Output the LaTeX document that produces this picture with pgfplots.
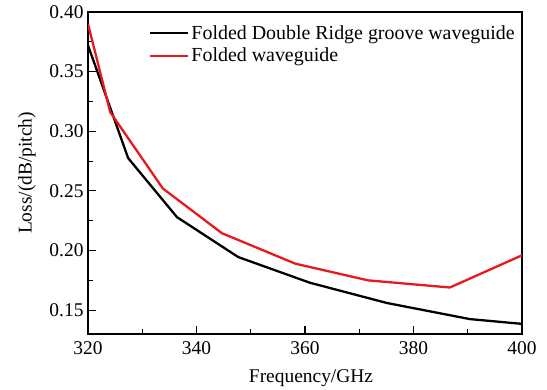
\documentclass[border=0pt]{standalone}
\usepackage{fontspec}
\setmainfont{Liberation Serif}
\usepackage{pgfplots}
\pgfplotsset{compat=1.18}
\usetikzlibrary{calc}

\definecolor{lossred}{RGB}{232,24,30}

% Loss per pitch versus frequency
\pgfplotstableread{
f     loss
320   0.372
327.4 0.2775
336.4 0.228
347.7 0.1945
360.9 0.173
375.1 0.156
390.4 0.1425
400   0.1385
}\ridgedata

\pgfplotstableread{
f     loss
320   0.390
324.1 0.316
333.8 0.252
344.7 0.2145
358.2 0.189
371.6 0.175
386.7 0.169
400   0.196
}\foldeddata

\begin{document}
\begin{tikzpicture}
\begin{axis}[
  name=ax,
  scale only axis,
  width=434bp, height=322bp,
  xmin=320, xmax=400,
  ymin=0.13, ymax=0.40,
  xtick={320,340,...,400},
  ytick={0.15,0.20,...,0.40},
  minor x tick num=1,
  minor y tick num=1,
  tick align=inside,
  xtick pos=bottom, ytick pos=left,
  major tick length=8bp,
  minor tick length=5bp,
  every tick/.style={black, line width=1.1pt},
  axis line style={black, line width=1.2pt},
  /pgf/number format/assume math mode=true,
  /pgf/number format/.cd, fixed, fixed zerofill, precision=2,
  /pgfplots/.cd,
  xticklabel={\pgfmathprintnumber[fixed,precision=0]{\tick}},
  tick label style={font=\fontsize{19.5}{22}\selectfont},
  xticklabel style={yshift=-4bp},
  yticklabel style={xshift=-1bp},
  label style={font=\fontsize{19.5}{22}\selectfont},
  xlabel={Frequency/GHz},
  ylabel={Loss/(dB/pitch)},
  xlabel style={yshift=-8bp, xshift=6bp},
  ylabel style={yshift=7bp},
  legend style={
    draw=none, fill=none,
    at={(0,1)}, anchor=north west,
    xshift=60bp, yshift=-10bp,
    font=\fontsize{20}{24}\selectfont,
    row sep=3.5bp,
    inner sep=1bp,
  },
  legend cell align=left,
  legend image code/.code={\draw[#1] (0bp,0bp) -- (38bp,0bp);},
]
\addplot[black, line width=2.3pt] table[x=f, y=loss] {\ridgedata};
\addlegendentry{Folded Double Ridge groove waveguide}
\addplot[lossred, line width=2.3pt] table[x=f, y=loss] {\foldeddata};
\addlegendentry{Folded waveguide}
\end{axis}
\pgfresetboundingbox
\path[use as bounding box] ($(ax.south west)+(-88bp,-55bp)$) rectangle ($(ax.north east)+(25bp,12bp)$);
\end{tikzpicture}
\end{document}
